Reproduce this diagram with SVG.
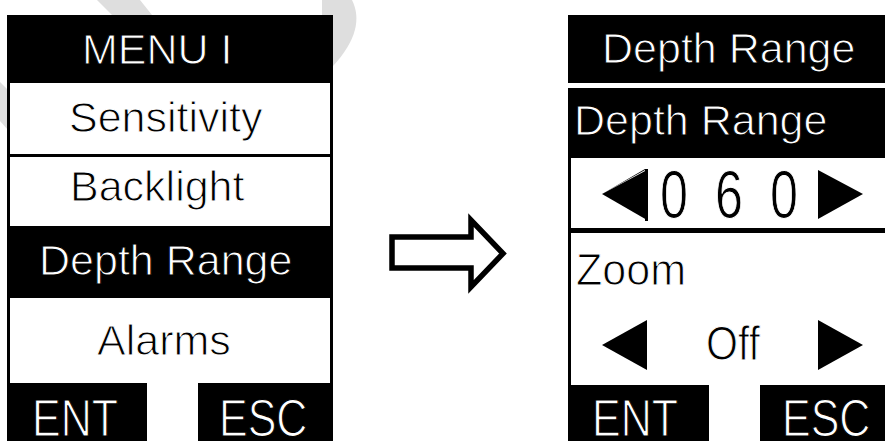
<svg xmlns="http://www.w3.org/2000/svg" width="885" height="441" viewBox="0 0 885 441">
  <defs>
    <style>
      .blk { fill: #000000; }
      .wht { fill: #ffffff; }
      .wm { fill: #dedede; }
      .t { font-family: "Liberation Sans", Arial, sans-serif; font-size: 43px; }
      .tw { fill: #ffffff; stroke: #000000; stroke-width: 1; }
      .tb { fill: #000000; stroke: #ffffff; stroke-width: 1; }
      .tri { fill: #000000; }
      .arrow { fill: #ffffff; stroke: #000000; stroke-width: 5.5; stroke-linejoin: miter; }
    </style>
  </defs>
  <rect x="0" y="0" width="885" height="441" fill="#ffffff"/>

  <!-- faint watermark fragments -->
  <g id="watermark">
    <polygon class="wm" points="97,0 140,0 152,15 112,15"/>
    <polygon class="wm" points="0,82 8,90 8,130 0,121"/>
    <path class="wm" d="M322,0 L352,0 C361,18 357,40 333,66 L322,66 Z"/>
  </g>

  <!-- Left screen: MENU I -->
  <g id="menu-screen">
    <g id="menu-header">
      <rect class="blk" x="7" y="15" width="326" height="68"/>
      <text class="t tw" x="82" y="64">MENU I</text>
    </g>
    <g id="menu-sensitivity">
      <rect class="blk" x="7" y="83" width="326" height="143"/>
      <rect class="wht" x="10" y="83" width="320" height="71"/>
      <text class="t tb" x="69" y="132">Sensitivity</text>
    </g>
    <g id="menu-backlight">
      <rect class="wht" x="10" y="157" width="320" height="69"/>
      <text class="t tb" x="70" y="201">Backlight</text>
    </g>
    <g id="menu-depth-range">
      <rect class="blk" x="7" y="226" width="326" height="72"/>
      <text class="t tw" x="39" y="275">Depth Range</text>
    </g>
    <g id="menu-alarms">
      <rect class="blk" x="7" y="298" width="326" height="85"/>
      <rect class="wht" x="10" y="298" width="320" height="85"/>
      <text class="t tb" x="97" y="355">Alarms</text>
    </g>
    <g id="menu-ent">
      <rect class="blk" x="7" y="383" width="140" height="58"/>
      <text class="t tw" transform="translate(32,436) scale(1,1.2)" x="0" y="0">ENT</text>
    </g>
    <g id="menu-esc">
      <rect class="blk" x="198" y="383" width="135" height="58"/>
      <text class="t tw" transform="translate(219,436) scale(1,1.2)" x="0" y="0">ESC</text>
    </g>
  </g>

  <!-- Connector -->
  <g id="connectors">
    <polygon class="arrow" points="392,237 471,237 471,220 503,253.5 471,287 471,268 392,268"/>
  </g>

  <!-- Right screen: Depth Range -->
  <g id="depth-screen">
    <g id="depth-header">
      <rect class="blk" x="568" y="15" width="317" height="68"/>
      <rect class="wht" x="568" y="83" width="317" height="5"/>
      <text class="t tw" x="602" y="63">Depth Range</text>
    </g>
    <g id="depth-label">
      <rect class="blk" x="568" y="88" width="317" height="70"/>
      <text class="t tw" x="574" y="135">Depth Range</text>
    </g>
    <g id="depth-value">
      <rect class="blk" x="568" y="158" width="3" height="70"/>
      <rect class="blk" x="568" y="228" width="317" height="5"/>
      <polygon class="tri" points="602,194 645,170 645,221 648,221 648,169 645,169"/>
      <polygon class="tri" points="602,194 647,170 647,220"/>
      <text class="t tb" style="font-size:69px" x="660" y="218" textLength="28" lengthAdjust="spacingAndGlyphs">0</text>
      <text class="t tb" style="font-size:69px" x="715" y="218" textLength="28" lengthAdjust="spacingAndGlyphs">6</text>
      <text class="t tb" style="font-size:69px" x="770" y="218" textLength="28" lengthAdjust="spacingAndGlyphs">0</text>
      <polygon class="tri" points="818,170 863,194 818,219"/>
    </g>
    <g id="zoom-setting">
      <rect class="blk" x="568" y="233" width="3" height="152"/>
      <text class="t tb" style="font-size:45px" x="576" y="285" textLength="110" lengthAdjust="spacingAndGlyphs">Zoom</text>
      <polygon class="tri" points="602,345 647,320 647,370"/>
      <text class="t tb" style="font-size:48px" x="706" y="360" textLength="54" lengthAdjust="spacingAndGlyphs">Off</text>
      <polygon class="tri" points="818,320 863,345 818,370"/>
    </g>
    <g id="depth-ent">
      <rect class="blk" x="568" y="385" width="141" height="56"/>
      <text class="t tw" transform="translate(592,436) scale(1,1.2)" x="0" y="0">ENT</text>
    </g>
    <g id="depth-esc">
      <rect class="blk" x="760" y="385" width="125" height="56"/>
      <text class="t tw" transform="translate(782,436) scale(1,1.2)" x="0" y="0">ESC</text>
    </g>
  </g>
</svg>
